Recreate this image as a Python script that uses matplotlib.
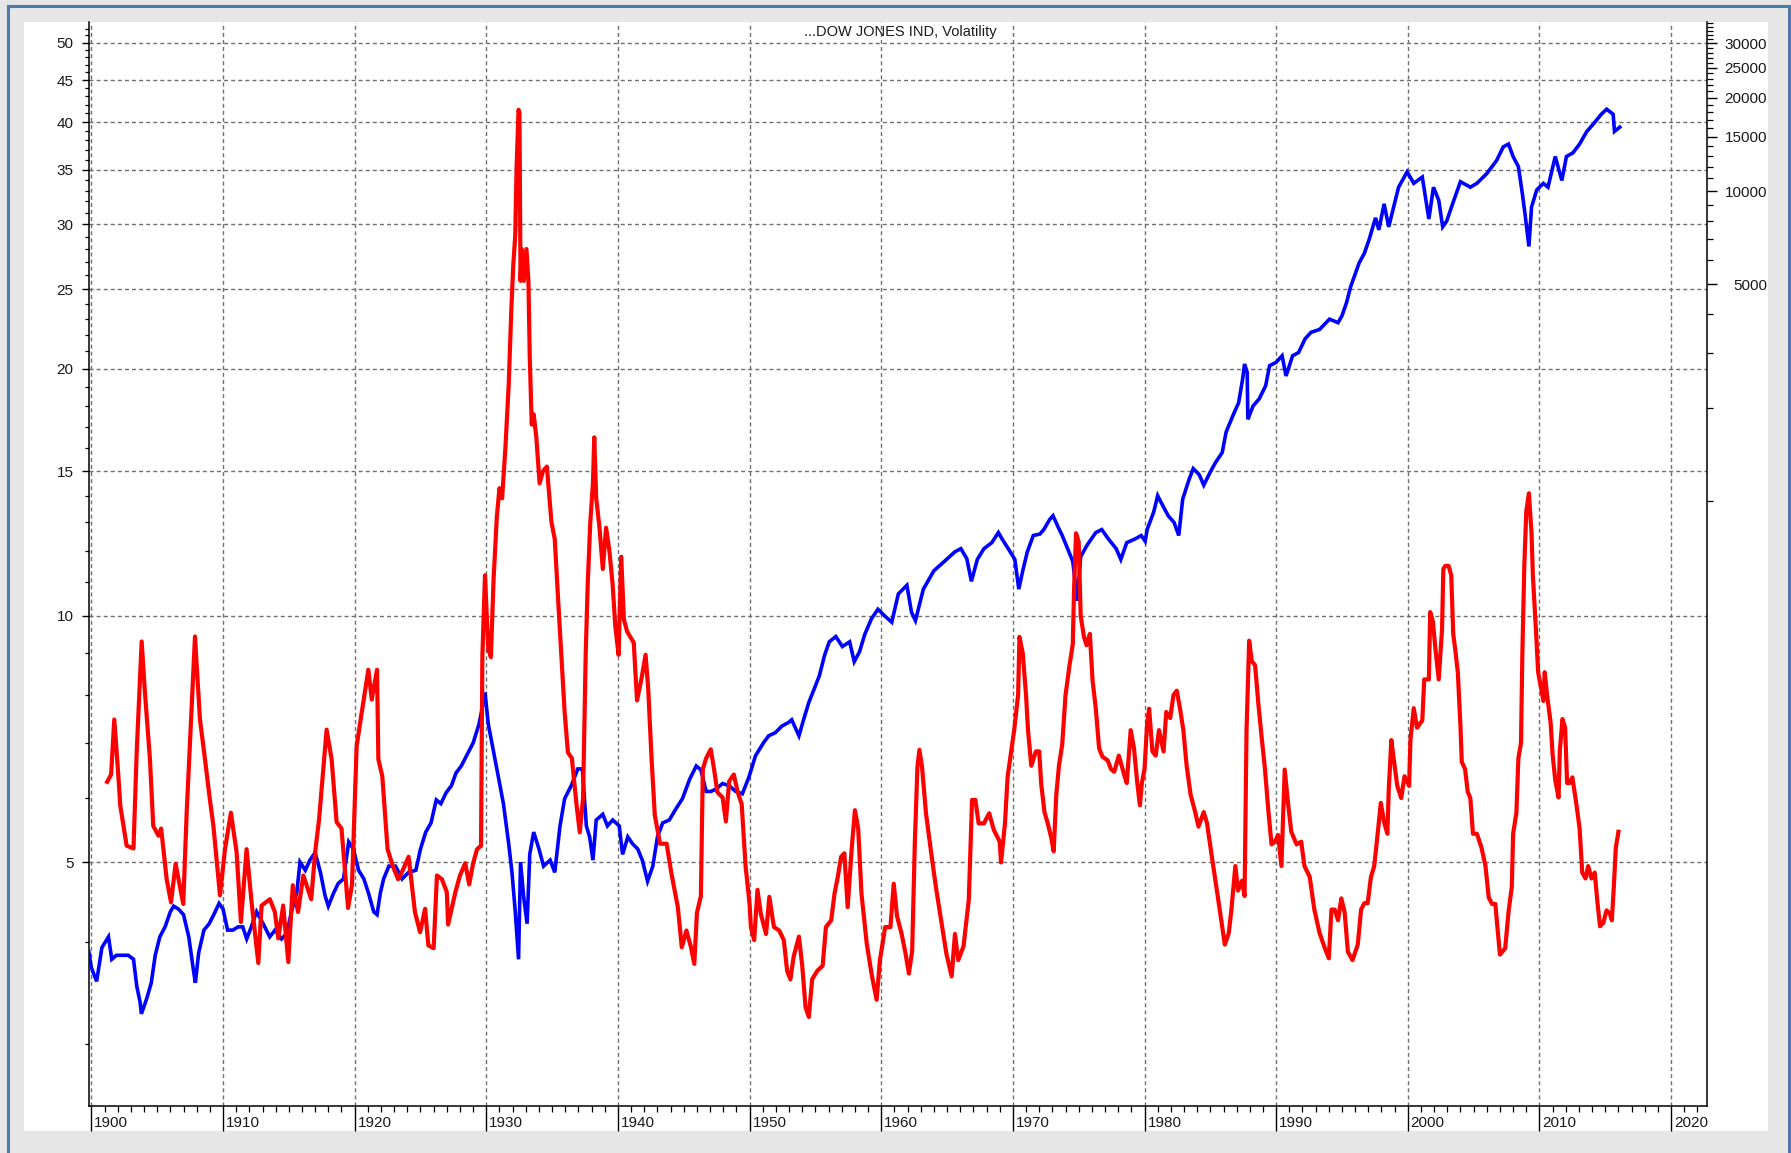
import matplotlib.pyplot as plt
from matplotlib.lines import Line2D
from matplotlib.patches import Rectangle
from matplotlib.ticker import FixedLocator, NullFormatter

plt.rcParams['font.family'] = ['Liberation Sans', 'DejaVu Sans']

# Волатильность (левая шкала)
vol_year = [1901.2, 1901.5, 1901.74, 1902.0, 1902.2, 1902.68, 1903.2, 1903.44, 1903.82, 1904.07,
            1904.45, 1904.7, 1905.1, 1905.3, 1905.72, 1906.05, 1906.4, 1906.98, 1907.24, 1907.57,
            1907.87, 1908.25, 1908.63, 1909.0, 1909.27, 1909.77, 1910.15, 1910.6, 1911.03, 1911.36,
            1911.79, 1912.17, 1912.68, 1912.93, 1913.56, 1913.94, 1914.2, 1914.57, 1914.96, 1915.3,
            1915.7, 1916.1, 1916.7, 1917.0, 1917.3, 1917.87, 1918.25, 1918.63, 1919.0, 1919.5,
            1919.8, 1920.15, 1920.5, 1921.04, 1921.3, 1921.7, 1921.8, 1922.1, 1922.5, 1922.9,
            1923.3, 1923.6, 1924.1, 1924.58, 1924.97, 1925.35, 1925.6, 1926.0, 1926.25, 1926.63,
            1927.0, 1927.1, 1927.65, 1928.0, 1928.4, 1928.7, 1929.0, 1929.3, 1929.6, 1929.7,
            1929.9, 1930.15, 1930.35, 1930.55, 1930.8, 1931.0, 1931.2, 1931.45, 1931.7, 1931.9,
            1932.05, 1932.2, 1932.3, 1932.45, 1932.52, 1932.6, 1932.7, 1932.85, 1933.05, 1933.2,
            1933.3, 1933.45, 1933.6, 1933.8, 1934.05, 1934.3, 1934.6, 1934.95, 1935.2, 1935.45,
            1935.7, 1935.95, 1936.2, 1936.5, 1936.85, 1937.1, 1937.35, 1937.55, 1937.7, 1937.9,
            1938.1, 1938.2, 1938.35, 1938.6, 1938.85, 1939.1, 1939.35, 1939.6, 1939.8, 1940.05,
            1940.25, 1940.45, 1940.7, 1941.2, 1941.45, 1941.8, 1942.1, 1942.3, 1942.55, 1942.8,
            1943.2, 1943.7, 1944.05, 1944.55, 1944.85, 1945.2, 1945.55, 1945.8, 1946.0, 1946.3,
            1946.45, 1946.7, 1947.05, 1947.3, 1947.55, 1947.95, 1948.2, 1948.45, 1948.8, 1949.1,
            1949.4, 1949.7, 1950.0, 1950.1, 1950.35, 1950.6, 1950.85, 1951.25, 1951.5, 1951.85,
            1952.25, 1952.6, 1952.85, 1953.1, 1953.35, 1953.75, 1954.0, 1954.25, 1954.5, 1954.75,
            1955.15, 1955.55, 1955.8, 1956.2, 1956.45, 1956.7, 1956.95, 1957.2, 1957.45, 1957.75,
            1958.0, 1958.25, 1958.5, 1958.9, 1959.3, 1959.65, 1959.9, 1960.3, 1960.7, 1960.95,
            1961.2, 1961.55, 1961.85, 1962.1, 1962.35, 1962.55, 1962.75, 1962.9, 1963.1, 1963.4,
            1963.8, 1964.15, 1964.55, 1964.95, 1965.35, 1965.6, 1965.85, 1966.25, 1966.65, 1966.9,
            1967.15, 1967.4, 1967.8, 1968.2, 1968.55, 1969.0, 1969.1, 1969.4, 1969.6, 1970.1,
            1970.4, 1970.5, 1970.75, 1971.0, 1971.15, 1971.4, 1971.75, 1972.0, 1972.15, 1972.4,
            1972.65, 1972.9, 1973.1, 1973.3, 1973.5, 1973.75, 1974.0, 1974.3, 1974.55, 1974.65,
            1974.8, 1975.0, 1975.15, 1975.4, 1975.6, 1975.85, 1976.05, 1976.3, 1976.55, 1976.8,
            1977.2, 1977.45, 1977.7, 1978.05, 1978.45, 1978.65, 1978.95, 1979.2, 1979.45, 1979.65,
            1979.8, 1980.0, 1980.2, 1980.35, 1980.6, 1980.85, 1981.1, 1981.45, 1981.65, 1981.95,
            1982.2, 1982.45, 1982.7, 1982.95, 1983.2, 1983.5, 1983.85, 1984.1, 1984.5, 1984.75,
            1985.1, 1985.5, 1985.9, 1986.1, 1986.4, 1986.6, 1986.9, 1987.1, 1987.4, 1987.6,
            1987.75, 1987.95, 1988.15, 1988.4, 1988.65, 1988.9, 1989.15, 1989.4, 1989.65, 1989.9,
            1990.15, 1990.4, 1990.65, 1990.9, 1991.15, 1991.55, 1991.9, 1992.15, 1992.55, 1992.9,
            1993.3, 1993.7, 1994.0, 1994.2, 1994.45, 1994.7, 1994.95, 1995.2, 1995.45, 1995.8,
            1996.2, 1996.45, 1996.7, 1996.95, 1997.2, 1997.45, 1997.7, 1997.95, 1998.2, 1998.45,
            1998.55, 1998.75, 1998.95, 1999.2, 1999.5, 1999.75, 2000.1, 2000.2, 2000.45, 2000.7,
            2001.1, 2001.25, 2001.6, 2001.7, 2001.9, 2002.1, 2002.35, 2002.6, 2002.7, 2002.85,
            2003.1, 2003.3, 2003.45, 2003.6, 2003.8, 2004.0, 2004.1, 2004.35, 2004.55, 2004.75,
            2004.95, 2005.25, 2005.6, 2005.9, 2006.15, 2006.4, 2006.65, 2006.8, 2007.0, 2007.4,
            2007.65, 2007.9, 2008.0, 2008.25, 2008.4, 2008.6, 2008.7, 2008.85, 2009.0, 2009.2,
            2009.4, 2009.5, 2009.75, 2009.9, 2010.1, 2010.3, 2010.4, 2010.6, 2010.85, 2011.0,
            2011.2, 2011.45, 2011.55, 2011.75, 2011.95, 2012.1, 2012.3, 2012.5, 2012.8, 2013.05,
            2013.25, 2013.5, 2013.7, 2013.95, 2014.2, 2014.4, 2014.6, 2014.85, 2015.1, 2015.35,
            2015.5, 2015.65, 2015.8, 2016.0]
vol = [6.27, 6.4, 7.47, 6.55, 5.86, 5.24, 5.2, 6.8, 9.3, 8.05,
       6.68, 5.54, 5.39, 5.5, 4.77, 4.47, 4.98, 4.45, 5.75, 7.47,
       9.43, 7.47, 6.68, 5.97, 5.54, 4.56, 5.19, 5.75, 5.15, 4.23,
       5.19, 4.47, 3.77, 4.43, 4.51, 4.35, 4.04, 4.43, 3.78, 4.69,
       4.35, 4.82, 4.51, 5.15, 5.65, 7.26, 6.68, 5.6, 5.5, 4.4,
       4.7, 6.93, 7.55, 8.59, 7.9, 8.59, 6.68, 6.37, 5.19, 4.95,
       4.77, 4.87, 5.08, 4.35, 4.11, 4.39, 3.96, 3.93, 4.82, 4.77,
       4.6, 4.2, 4.6, 4.82, 4.99, 4.7, 4.99, 5.19, 5.24, 8.9,
       11.2, 9.1, 8.9, 11.05, 13.2, 14.3, 13.9, 16.0, 19.1, 23.6,
       26.8, 29.1, 35.2, 41.4, 41.0, 25.6, 28.0, 25.6, 28.0, 25.6,
       20.7, 17.1, 17.6, 16.5, 14.5, 15.0, 15.2, 13.0, 12.4, 10.5,
       8.96, 7.63, 6.81, 6.7, 5.89, 5.44, 5.99, 8.96, 10.9, 13.0,
       14.5, 16.5, 13.9, 12.8, 11.4, 12.8, 12.0, 10.9, 9.7, 8.96,
       11.8, 9.9, 9.56, 9.27, 7.88, 8.4, 8.96, 8.14, 6.71, 5.71,
       5.27, 5.27, 4.86, 4.41, 3.94, 4.13, 3.94, 3.76, 4.34, 4.55,
       6.5, 6.7, 6.87, 6.5, 6.09, 6.0, 5.61, 6.28, 6.4, 6.09,
       5.89, 4.94, 4.45, 4.17, 4.02, 4.63, 4.33, 4.09, 4.54, 4.17,
       4.13, 4.02, 3.69, 3.6, 3.84, 4.06, 3.74, 3.33, 3.24, 3.6,
       3.69, 3.74, 4.17, 4.25, 4.58, 4.8, 5.08, 5.13, 4.41, 5.18,
       5.79, 5.5, 4.58, 3.98, 3.63, 3.4, 3.8, 4.17, 4.17, 4.71,
       4.3, 4.09, 3.87, 3.66, 3.9, 5.27, 6.54, 6.86, 6.54, 5.74,
       5.13, 4.67, 4.25, 3.87, 3.63, 4.09, 3.8, 3.95, 4.5, 5.96,
       5.96, 5.58, 5.58, 5.74, 5.48, 5.3, 5.0, 5.58, 6.36, 7.25,
       8.01, 9.42, 9.0, 8.0, 7.25, 6.56, 6.83, 6.83, 6.24, 5.76,
       5.58, 5.37, 5.16, 6.05, 6.56, 6.97, 8.0, 8.69, 9.23, 10.8,
       12.6, 12.3, 10.0, 9.42, 9.2, 9.5, 8.35, 7.7, 6.89, 6.73,
       6.66, 6.5, 6.45, 6.75, 6.4, 6.25, 7.25, 6.89, 6.25, 5.87,
       6.25, 6.5, 7.4, 7.7, 6.83, 6.75, 7.25, 6.83, 7.63, 7.5,
       8.0, 8.1, 7.7, 7.25, 6.56, 6.05, 5.76, 5.53, 5.76, 5.58,
       5.1, 4.62, 4.17, 3.97, 4.1, 4.38, 4.95, 4.62, 4.75, 4.55,
       7.25, 9.32, 8.8, 8.7, 7.8, 7.1, 6.5, 5.8, 5.26, 5.3,
       5.4, 4.95, 6.49, 5.91, 5.45, 5.26, 5.3, 4.95, 4.8, 4.38,
       4.1, 3.93, 3.82, 4.38, 4.38, 4.25, 4.52, 4.35, 3.89, 3.8,
       3.97, 4.38, 4.46, 4.46, 4.8, 4.95, 5.4, 5.91, 5.6, 5.42,
       6.12, 7.05, 6.65, 6.2, 5.99, 6.37, 6.2, 7.05, 7.71, 7.3,
       7.45, 8.36, 8.36, 10.1, 9.85, 9.1, 8.36, 9.62, 11.4, 11.5,
       11.5, 11.2, 9.5, 9.1, 8.53, 7.33, 6.63, 6.5, 6.1, 5.99,
       5.42, 5.42, 5.21, 4.95, 4.53, 4.45, 4.45, 4.18, 3.86, 3.93,
       4.35, 4.67, 5.42, 5.75, 6.7, 7.0, 8.96, 11.5, 13.4, 14.1,
       12.6, 11.2, 9.5, 8.53, 8.2, 7.87, 8.53, 7.95, 7.4, 6.77,
       6.3, 6.0, 6.85, 7.48, 7.3, 6.25, 6.25, 6.35, 5.9, 5.5,
       4.86, 4.78, 4.95, 4.78, 4.86, 4.48, 4.18, 4.22, 4.37, 4.33,
       4.25, 4.67, 5.21, 5.45]

# Индекс Доу-Джонса (правая шкала)
dow_year = [1899.8, 1900.0, 1900.4, 1900.8, 1901.3, 1901.55, 1901.9, 1902.45, 1902.8, 1903.2,
            1903.45, 1903.7, 1903.8, 1904.2, 1904.55, 1904.85, 1905.2, 1905.6, 1906.0, 1906.25,
            1906.6, 1907.0, 1907.4, 1907.75, 1907.9, 1908.15, 1908.55, 1908.95, 1909.3, 1909.7,
            1910.0, 1910.35, 1910.75, 1911.15, 1911.5, 1911.8, 1912.15, 1912.55, 1913.05, 1913.55,
            1913.95, 1914.45, 1914.85, 1915.2, 1915.6, 1915.85, 1916.25, 1916.6, 1917.0, 1917.4,
            1917.75, 1918.0, 1918.4, 1918.75, 1919.15, 1919.55, 1919.9, 1920.3, 1920.7, 1921.05,
            1921.45, 1921.7, 1921.95, 1922.2, 1922.6, 1923.1, 1923.6, 1924.1, 1924.65, 1925.0,
            1925.4, 1925.8, 1926.2, 1926.55, 1926.95, 1927.35, 1927.7, 1928.1, 1928.5, 1929.0,
            1929.45, 1929.7, 1929.9, 1930.15, 1930.55, 1930.95, 1931.3, 1931.7, 1931.95, 1932.2,
            1932.45, 1932.6, 1932.85, 1933.1, 1933.3, 1933.6, 1934.0, 1934.35, 1934.85, 1935.2,
            1935.6, 1935.95, 1936.45, 1936.95, 1937.3, 1937.6, 1937.85, 1938.1, 1938.35, 1938.85,
            1939.2, 1939.6, 1940.1, 1940.35, 1940.75, 1941.1, 1941.5, 1941.85, 1942.25, 1942.65,
            1943.0, 1943.4, 1943.9, 1944.4, 1944.9, 1945.45, 1945.95, 1946.3, 1946.7, 1947.05,
            1947.45, 1947.95, 1948.45, 1948.95, 1949.45, 1949.95, 1950.45, 1951.05, 1951.45, 1951.95,
            1952.45, 1952.95, 1953.2, 1953.75, 1954.1, 1954.5, 1954.9, 1955.3, 1955.7, 1956.05,
            1956.55, 1957.05, 1957.6, 1957.95, 1958.35, 1958.75, 1959.25, 1959.75, 1960.25, 1960.8,
            1961.3, 1961.95, 1962.3, 1962.6, 1963.2, 1964.0, 1964.8, 1965.6, 1966.05, 1966.5,
            1966.85, 1967.3, 1967.8, 1968.4, 1968.9, 1969.2, 1969.65, 1970.15, 1970.45, 1970.75,
            1971.1, 1971.55, 1972.05, 1972.35, 1972.8, 1973.05, 1973.45, 1973.75, 1974.25, 1974.55,
            1974.9, 1975.15, 1975.65, 1976.3, 1976.75, 1977.25, 1977.85, 1978.2, 1978.65, 1979.3,
            1979.75, 1980.05, 1980.2, 1980.7, 1981.0, 1981.3, 1981.8, 1982.25, 1982.6, 1982.9,
            1983.4, 1983.7, 1984.15, 1984.5, 1985.0, 1985.4, 1985.9, 1986.2, 1986.7, 1987.15,
            1987.45, 1987.6, 1987.8, 1987.85, 1988.25, 1988.7, 1989.2, 1989.5, 1990.0, 1990.45,
            1990.75, 1991.25, 1991.7, 1992.2, 1992.65, 1993.3, 1994.05, 1994.7, 1995.0, 1995.35,
            1995.65, 1996.0, 1996.3, 1996.7, 1997.05, 1997.55, 1997.8, 1998.2, 1998.55, 1999.05,
            1999.3, 1999.95, 2000.45, 2001.1, 2001.6, 2001.95, 2002.35, 2002.65, 2002.95, 2003.5,
            2004.0, 2004.75, 2005.25, 2006.0, 2006.75, 2007.25, 2007.65, 2008.0, 2008.4, 2008.7,
            2008.9, 2009.2, 2009.4, 2009.8, 2010.3, 2010.65, 2011.2, 2011.7, 2012.05, 2012.55,
            2013.05, 2013.6, 2014.05, 2014.7, 2015.1, 2015.6, 2015.7, 2016.1]
dow = [35, 31, 28, 36, 39, 33, 34, 34, 34, 33,
       27, 24, 22, 24.6, 27.7, 34, 39, 42, 47, 49,
       48, 46, 39, 30.5, 27.7, 34.6, 41, 43, 46, 50,
       48, 41, 41, 42, 42, 38.4, 42, 47, 43, 39,
       41, 38.4, 40, 47, 54, 68, 64, 69, 73, 63,
       53, 49, 54, 58, 60, 79, 75, 64, 60, 54,
       47, 46, 54, 60, 66, 66, 60, 63, 64, 75,
       85, 91, 108, 105, 114, 120, 132, 139, 150, 165,
       190, 215, 240, 190, 155, 126, 105, 78, 63, 47,
       33, 68, 52, 43, 72, 85, 75, 66, 69, 63,
       89, 109, 120, 136, 136, 89, 82, 69, 93, 97,
       89, 93, 89, 72, 82, 78, 75, 69, 59, 66,
       82, 91, 93, 101, 109, 126, 139, 135, 115, 115,
       117, 122, 120, 115, 113, 128, 150, 165, 174, 178,
       187, 192, 196, 174, 196, 223, 246, 272, 317, 350,
       364, 338, 350, 302, 325, 370, 415, 446, 425, 405,
       500, 533, 436, 410, 518, 594, 637, 684, 700, 650,
       549, 646, 700, 732, 789, 750, 700, 646, 518, 594,
       684, 772, 780, 807, 870, 894, 820, 772, 684, 637,
       475, 660, 720, 789, 807, 753, 700, 646, 732, 753,
       772, 740, 807, 920, 1038, 980, 894, 850, 772, 1012,
       1176, 1270, 1215, 1123, 1239, 1330, 1430, 1667, 1877, 2073,
       2470, 2765, 2600, 1832, 2025, 2130, 2350, 2730, 2800, 2940,
       2530, 2940, 3010, 3335, 3500, 3575, 3860, 3760, 3960, 4370,
       4900, 5400, 5860, 6300, 6950, 8200, 7500, 9100, 7670, 9350,
       10300, 11550, 10600, 11110, 8130, 10300, 9350, 7670, 8000, 9350,
       10730, 10300, 10600, 11400, 12570, 13900, 14200, 12940, 12000, 9830,
       8470, 6630, 8890, 10100, 10600, 10300, 12940, 10830, 12940, 13310,
       14200, 15600, 16400, 17720, 18400, 17720, 15600, 16100]

left_ticks = [5, 10, 15, 20, 25, 30, 35, 40, 45, 50]
right_ticks = [5000, 10000, 15000, 20000, 25000, 30000]
decades = list(range(1900, 2030, 10))
title = '...DOW JONES IND, Volatility'

W, H = 1791, 1153
def fx(px):
    return px / W
def fy(py):
    return 1 - py / H

fig = plt.figure(figsize=(W / 100, H / 100), dpi=100, facecolor='#e6e6e6')
# белая панель и синяя рамка
fig.patches.append(Rectangle((fx(24), fy(1131)), fx(1768) - fx(24), fy(22) - fy(1131),
                             transform=fig.transFigure, facecolor='white', edgecolor='none', zorder=-5))
for xs, ys in [([8, 8], [6, 1153]), ([8, 1789], [6, 6]), ([1789, 1789], [6, 1153])]:
    fig.add_artist(Line2D([fx(x) for x in xs], [fy(y) for y in ys], color='#4d7aa9', lw=2.2, zorder=-4))

ax = fig.add_axes([fx(89), fy(1106), fx(1706.5) - fx(89), fy(22) - fy(1106)])
ax.set_facecolor('none')
ax.set_yscale('log')
ax2 = ax.twinx()
ax2.set_yscale('log')

# линии
ax2.plot(dow_year, dow, color='#0000ff', lw=2.6, solid_joinstyle='miter')
ax2.plot(vol_year, vol, color='#ff0000', lw=3.0, transform=ax.transData)

ax.set_xlim(1899.82, 2022.69)
ax.set_ylim(2.523, 52.97)
ax2.set_ylim(11.08, 35200)

# сетка
grid_kw = dict(color='#707070', linestyle=(0, (2.9, 2.2)), linewidth=1.0)
ax.set_xticks(decades)
ax.set_xticklabels([])
ax.xaxis.set_minor_locator(FixedLocator(list(range(1900, 2023))))
ax.yaxis.set_major_locator(FixedLocator(left_ticks))
ax.set_yticklabels([str(v) for v in left_ticks])
ax.yaxis.set_minor_locator(FixedLocator([v for v in range(3, 53) if v not in left_ticks]))
ax.yaxis.set_minor_formatter(NullFormatter())
ax.grid(True, which='major', axis='both', **grid_kw)
ax.set_axisbelow(True)

ax2.yaxis.set_major_locator(FixedLocator(right_ticks))
ax2.set_yticklabels([str(v) for v in right_ticks])
ax2.yaxis.set_minor_locator(FixedLocator([v for v in range(1000, 36000, 1000) if v not in right_ticks]))
ax2.yaxis.set_minor_formatter(NullFormatter())

for s in ['top', 'right']:
    ax.spines[s].set_visible(False)
for s in ['top', 'left', 'bottom']:
    ax2.spines[s].set_visible(False)
for a in (ax, ax2):
    for s in a.spines.values():
        s.set_linewidth(1.1)
        s.set_color('black')

ax.tick_params(axis='x', which='major', length=18, width=1.0, direction='out')
ax.tick_params(axis='x', which='minor', length=4, width=0.9, direction='out')
ax.tick_params(axis='y', which='major', length=5, width=1.0, labelsize=11, pad=6, labelcolor='#1a1a1a')
ax.tick_params(axis='y', which='minor', length=3, width=0.9)
ax2.tick_params(axis='y', which='major', length=7.2, width=1.0, labelsize=11, pad=36.4, labelcolor='#1a1a1a')
ax2.tick_params(axis='y', which='minor', length=4.3, width=0.9)
for lab in ax2.get_yticklabels():
    lab.set_horizontalalignment('right')

for yr in decades:
    ax.text(yr + 0.22, -0.0157, str(yr), transform=ax.get_xaxis_transform(),
            ha='left', va='center', fontsize=11, color='#1a1a1a', clip_on=False)

fig.text(fx(900), fy(32), title, ha='center', va='center', fontsize=10.5, color='#1a1a1a')

fig.savefig('out.png', dpi=100, facecolor=fig.get_facecolor())
